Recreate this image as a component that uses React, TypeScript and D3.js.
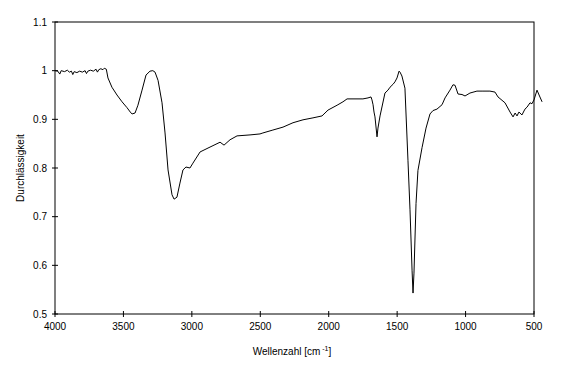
import * as d3 from "d3";

// IR spectrum (wavenumber in cm^-1, transmittance)
const wavenumbers = [
  4000, 3980, 3965, 3955, 3930, 3910, 3895, 3880, 3870, 3860, 3840, 3820, 3800, 3780, 3770,
  3760, 3740, 3720, 3700, 3690, 3680, 3665, 3650, 3640, 3625, 3613, 3584, 3547, 3510, 3474,
  3450, 3437, 3415, 3394, 3364, 3335, 3306, 3285, 3269, 3247, 3218, 3196, 3174, 3145, 3130,
  3109, 3087, 3065, 3043, 3014, 2992, 2940, 2882, 2794, 2765, 2721, 2670, 2575, 2502, 2481,
  2408, 2334, 2261, 2188, 2115, 2049, 2005, 1939, 1896, 1866, 1750, 1713, 1691, 1684, 1676,
  1669, 1662, 1647, 1640, 1625, 1589, 1567, 1552, 1530, 1516, 1501, 1486, 1479, 1465, 1443,
  1421, 1406, 1391, 1384, 1377, 1362, 1348, 1318, 1289, 1260, 1238, 1209, 1172, 1150, 1114,
  1092, 1077, 1055, 1026, 1004, 968, 917, 873, 822, 785, 763, 712, 675, 653, 638, 624, 610,
  588, 566, 551, 529, 515, 500, 478, 463, 441,
];
const transmittance = [
  1.0, 0.999, 0.993, 1.0, 0.998, 1.001, 0.997, 0.999, 0.992, 0.998, 0.996, 0.999, 0.997, 1.0, 0.994,
  0.999, 1.001, 0.999, 1.003, 0.997, 1.002, 1.004, 1.002, 1.005, 1.003, 0.985, 0.966, 0.95, 0.936, 0.924,
  0.915, 0.911, 0.913, 0.929, 0.96, 0.991, 0.999, 1.0, 0.997, 0.98, 0.934, 0.872, 0.796, 0.745, 0.736,
  0.74, 0.769, 0.796, 0.802, 0.8, 0.81, 0.833, 0.841, 0.853, 0.847, 0.858, 0.866, 0.868, 0.87, 0.872,
  0.878, 0.884, 0.893, 0.899, 0.903, 0.907, 0.919, 0.929, 0.936, 0.942, 0.942, 0.944, 0.946, 0.94, 0.93,
  0.915, 0.905, 0.864, 0.882, 0.907, 0.954, 0.96, 0.966, 0.972, 0.977, 0.985, 0.999, 0.997, 0.989, 0.964,
  0.816, 0.714, 0.59, 0.543, 0.584, 0.727, 0.795, 0.842, 0.882, 0.911, 0.918, 0.921, 0.93, 0.944, 0.96,
  0.971, 0.97, 0.952, 0.951, 0.948, 0.954, 0.958, 0.958, 0.958, 0.956, 0.946, 0.934, 0.915, 0.905, 0.913,
  0.907, 0.915, 0.909, 0.921, 0.925, 0.934, 0.932, 0.94, 0.96, 0.95, 0.936,
];

const xTicks = [4000, 3500, 3000, 2500, 2000, 1500, 1000, 500];
const yTicks = [0.5, 0.6, 0.7, 0.8, 0.9, 1, 1.1];

const WIDTH = 561;
const HEIGHT = 371;
const margin = { top: 22, right: 27, bottom: 57, left: 55 };
const font = "'Liberation Sans', Arial, sans-serif";

export default function App() {
  const x = d3.scaleLinear().domain([4000, 500]).range([margin.left, WIDTH - margin.right]);
  const y = d3.scaleLinear().domain([0.5, 1.1]).range([HEIGHT - margin.bottom, margin.top]);

  const points: [number, number][] = wavenumbers.map((w, i) => [w, transmittance[i]]);
  const line = d3
    .line<[number, number]>()
    .x((d) => x(d[0]))
    .y((d) => y(d[1]));

  const x0 = margin.left;
  const x1 = WIDTH - margin.right;
  const y0 = HEIGHT - margin.bottom;
  const y1 = margin.top;

  return (
    <svg
      width={WIDTH}
      height={HEIGHT}
      style={{ position: "absolute", left: 0, top: 0, background: "white" }}
    >
      <rect x={0} y={0} width={WIDTH} height={HEIGHT} fill="white" />
      {/* frame */}
      <rect x={x0} y={y1} width={x1 - x0} height={y0 - y1} fill="none" stroke="black" strokeWidth={1} />

      {/* y ticks */}
      {yTicks.map((t) => (
        <g key={t}>
          <line x1={x0 - 3} x2={x0 + 3} y1={y(t)} y2={y(t)} stroke="black" />
          <text
            x={x0 - 8}
            y={y(t)}
            dy="0.35em"
            textAnchor="end"
            fontFamily={font}
            fontSize={10}
          >
            {t}
          </text>
        </g>
      ))}

      {/* x ticks */}
      {xTicks.map((t) => (
        <g key={t}>
          <line x1={x(t)} x2={x(t)} y1={y0 - 3} y2={y0 + 3} stroke="black" />
          <text x={x(t)} y={y0 + 16} textAnchor="middle" fontFamily={font} fontSize={10}>
            {t}
          </text>
        </g>
      ))}

      <path d={line(points) ?? ""} fill="none" stroke="black" strokeWidth={1} strokeLinejoin="round" />

      <text x={292} y={355} textAnchor="middle" fontFamily={font} fontSize={10}>
        Wellenzahl [cm
        <tspan dy={-4} fontSize={7}> -1</tspan>
        <tspan dy={4}>]</tspan>
      </text>
      <text
        transform={`translate(24, ${(y0 + y1) / 2}) rotate(-90)`}
        textAnchor="middle"
        fontFamily={font}
        fontSize={10}
      >
        Durchlässigkeit
      </text>
    </svg>
  );
}
